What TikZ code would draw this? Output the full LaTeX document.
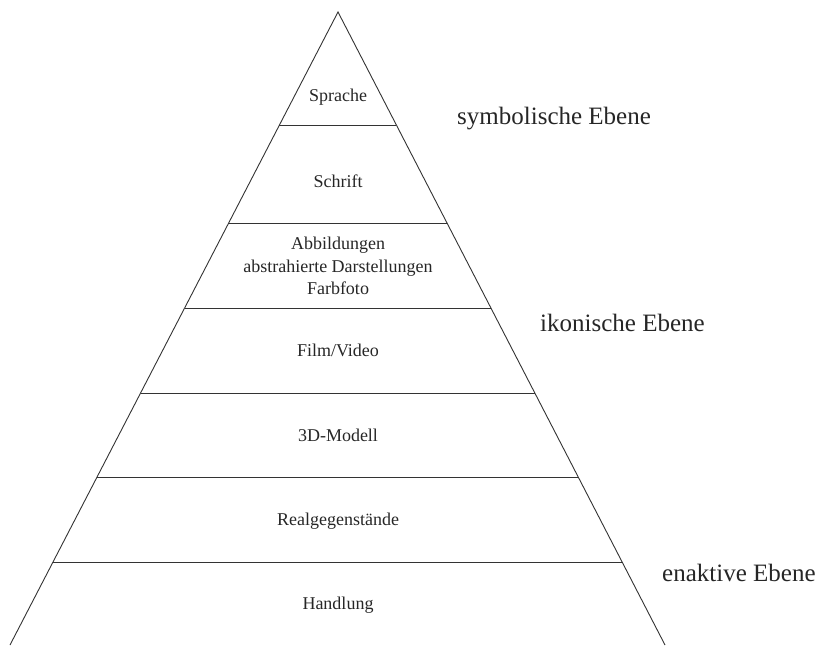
\documentclass[tikz,border=0pt]{standalone}
\usepackage{fontspec}
\setmainfont{Liberation Serif}
\begin{document}
\begin{tikzpicture}[x=1pt,y=-1pt,
  edge/.style={draw=black!80, line width=0.9pt},
  level/.style={font=\fontsize{18}{22.5}\selectfont, align=center, inner sep=0pt, text=black!85},
  tier/.style={font=\fontsize{25}{28}\selectfont, anchor=base west, inner sep=0pt, text=black!85}]
\useasboundingbox (0,0) rectangle (816,645);
% triangle corners
\coordinate (apex) at (338,12);
\coordinate (bl) at (10,645);
\coordinate (br) at (665,645);
\draw[edge] (bl) -- (apex) -- (br);
% separator lines
\foreach \y/\n in {125/a,223/b,308/c,393/d,477/e,562/f}{
  \coordinate (L\n) at ({338-0.518*(\y-12)},\y);
  \coordinate (R\n) at ({338+0.516*(\y-12)},\y);
  \draw[edge] (L\n) -- (R\n);
}
\node[level, anchor=base] (sprache) at (338,101) {Sprache};
\node[level, anchor=base] (schrift) at (338,187) {Schrift};
\node[level] (abb) at (338,266) {Abbildungen\\abstrahierte Darstellungen\\Farbfoto};
\node[level, anchor=base] (film) at (338,356) {Film/Video};
\node[level, anchor=base] (modell) at (338,441) {3D-Modell};
\node[level, anchor=base] (real) at (338,525) {Realgegenstände};
\node[level, anchor=base] (hand) at (338,609) {Handlung};
\node[tier] (sym) at (457,124) {symbolische Ebene};
\node[tier] (iko) at (540,331) {ikonische Ebene};
\node[tier] (enak) at (662,581) {enaktive Ebene};
\end{tikzpicture}
\end{document}
